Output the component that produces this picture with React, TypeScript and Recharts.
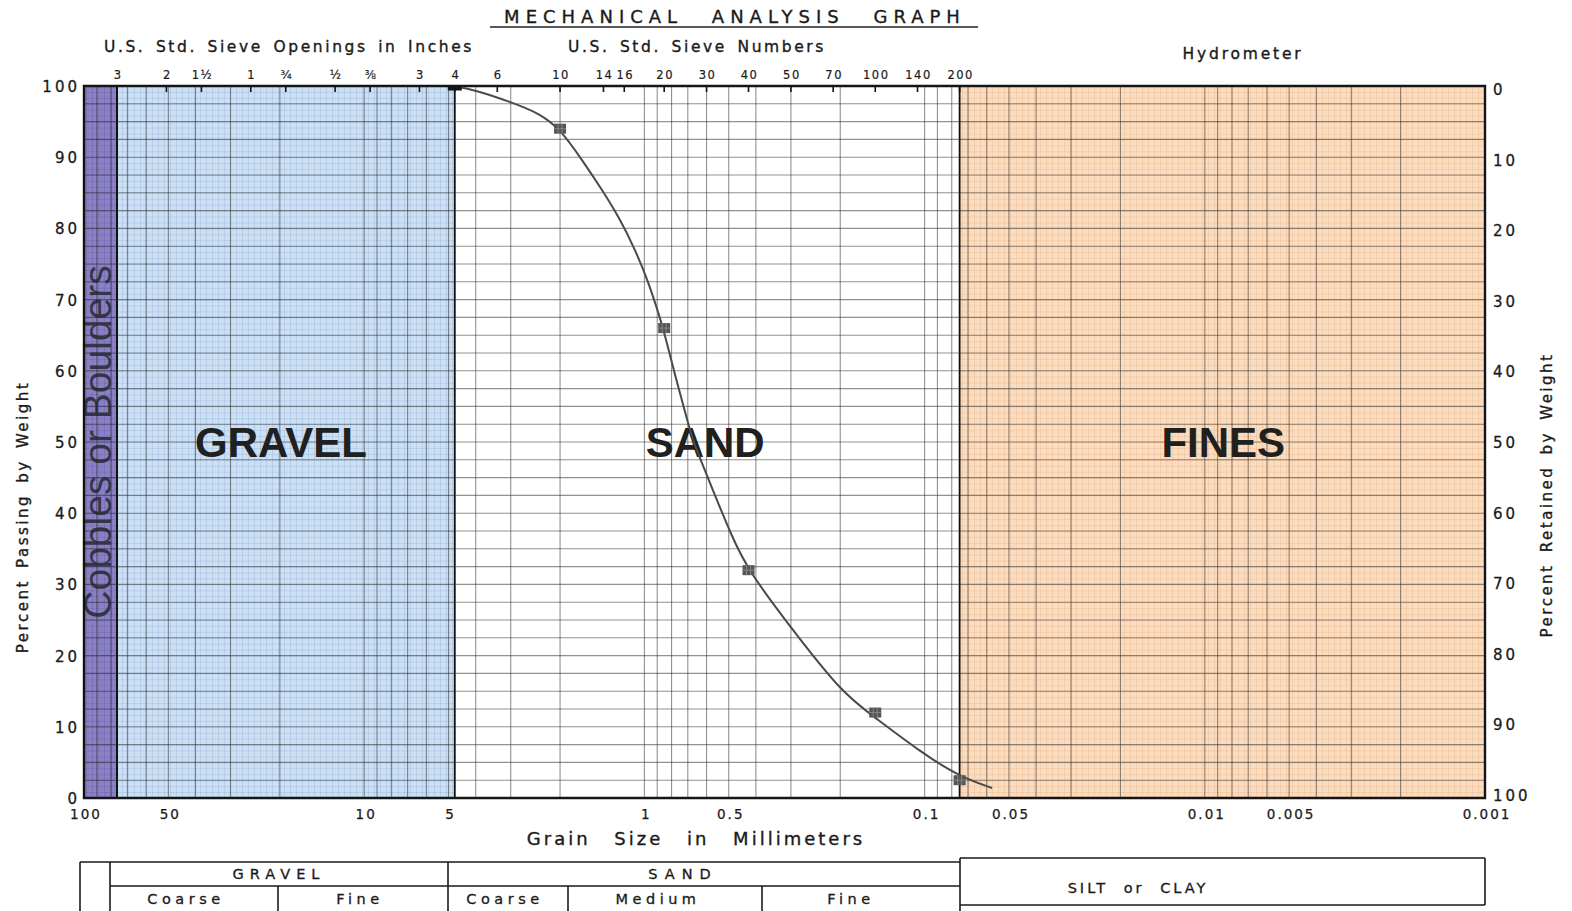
import React from 'react';
import { ComposedChart, Line, Scatter, XAxis, YAxis, ReferenceArea, ReferenceLine } from 'recharts';

// ---------- data ----------
const curveMm = [4.75, 4.0, 3.0, 2.38, 2.0, 1.667, 1.415, 1.233, 1.075, 0.964, 0.875, 0.85, 0.774, 0.693, 0.666, 0.63, 0.557, 0.487, 0.425, 0.305, 0.197, 0.15, 0.102, 0.075, 0.0574];
const curvePct = [100, 99.4, 97.75, 96.2, 94, 89.6, 85.4, 81.6, 76.9, 72.3, 67.1, 65.4, 59.1, 52.1, 49.9, 47.5, 42.3, 36.7, 31.9, 24.3, 14.7, 11.3, 6.3, 3.0, 1.4];

const markMm = [4.75, 2.0, 0.85, 0.425, 0.15, 0.075];
const markPct = [100, 94, 66, 32, 12, 2.5];

const mmTicks = [100, 50, 10, 5, 1, 0.5, 0.1, 0.05, 0.01, 0.005, 0.001];
const mmTickLabels = ['100', '50', '10', '5', '1', '0.5', '0.1', '0.05', '0.01', '0.005', '0.001'];

const sieveMm = [76.2, 50.8, 38.1, 25.4, 19.05, 12.7, 9.525, 6.35, 4.75, 3.35, 2.0, 1.4, 1.18, 0.85, 0.6, 0.425, 0.3, 0.212, 0.15, 0.106, 0.075];
const sieveLabels = ['3', '2', '1½', '1', '¾', '½', '⅜', '3', '4', '6', '10', '14', '16', '20', '30', '40', '50', '70', '100', '140', '200'];

const pctTicks = [0, 10, 20, 30, 40, 50, 60, 70, 80, 90, 100];

const regionNames = ['Cobbles or Boulders', 'GRAVEL', 'SAND', 'FINES'];
const regionFrom = [100, 76.2, 4.75, 0.075];
const regionTo = [76.2, 4.75, 0.075, 0.001];
const regionFill = ['url(#purplePat)', 'url(#bluePat)', '#ffffff', 'url(#peachPat)'];
const regionLabelShift = [-3, -5, -2, 1];

const gridDecades = [10, 1, 0.1, 0.01, 0.001];
const gridMultipliers = [1, 2, 3, 4, 5, 6, 7, 8, 9];
const gridPctStep = 2.5;

// ---------- derived tables ----------
const curveData = curveMm.map((mm, i) => ({ mm, pct: curvePct[i] }));
const markData = markMm.map((mm, i) => ({ mm, pct: markPct[i] }));
const gridMm: number[] = [];
gridDecades.forEach((d) => gridMultipliers.forEach((m) => gridMm.push(+(d * m).toPrecision(6))));
const gridPct: number[] = [];
for (let v = 0; v <= 100; v += gridPctStep) gridPct.push(v);

const FONT = '"DejaVu Sans", Verdana, sans-serif';
const INK = '#1a1a1a';

const closestIdx = (arr: number[], v: number) => {
  let best = 0;
  let bd = Infinity;
  arr.forEach((a, i) => {
    const d = Math.abs(Math.log(a) - Math.log(v));
    if (d < bd) { bd = d; best = i; }
  });
  return best;
};

const MmTick = (props: any) => {
  const { x, y, payload } = props;
  const label = mmTickLabels[closestIdx(mmTicks, payload.value)];
  return (
    <text x={x + 2} y={y + 15} textAnchor="middle" fontSize={13.5} letterSpacing={2} fontFamily={FONT} fill={INK} stroke={INK} strokeWidth={0.25}>
      {label}
    </text>
  );
};

const SieveTick = (props: any) => {
  const { x, y, payload } = props;
  const label = sieveLabels[closestIdx(sieveMm, payload.value)];
  return (
    <g>
      <line x1={x} x2={x} y1={y + 7} y2={y + 13} stroke="#111" strokeWidth={1.6} />
      <text x={x + 1} y={y} textAnchor="middle" fontSize={11.5} letterSpacing={1.5} fontFamily={FONT} fill={INK} stroke={INK} strokeWidth={0.2}>
        {label}
      </text>
    </g>
  );
};

const LeftTick = (props: any) => {
  const { x, y, payload } = props;
  return (
    <text x={x + 3} y={y + 6} textAnchor="end" fontSize={15} letterSpacing={3} fontFamily={FONT} fill={INK} stroke={INK} strokeWidth={0.3}>
      {payload.value}
    </text>
  );
};

const RightTick = (props: any) => {
  const { x, y, payload } = props;
  return (
    <text x={x} y={y + 9 - payload.value * 0.06} textAnchor="start" fontSize={15} letterSpacing={3} fontFamily={FONT} fill={INK} stroke={INK} strokeWidth={0.3}>
      {payload.value}
    </text>
  );
};

const RegionLabel = (props: any) => {
  const { viewBox, text, vertical, shift } = props;
  if (!viewBox) return null;
  const cx = viewBox.x + viewBox.width / 2 + (shift || 0);
  const cy = viewBox.y + viewBox.height / 2;
  if (vertical) {
    return (
      <text
        transform={`translate(${cx},${cy}) rotate(-90)`}
        textAnchor="middle"
        dominantBaseline="central"
        fontSize={39}
        fontFamily='"Liberation Sans", Arial, sans-serif'
        fill="#2e2e3a"
        fillOpacity={0.92}
      >
        {text}
      </text>
    );
  }
  return (
    <text
      x={cx}
      y={cy}
      textAnchor="middle"
      dominantBaseline="central"
      fontSize={42}
      fontWeight="bold"
      fontFamily='"Liberation Sans", Arial, sans-serif'
      fill="#202020"
    >
      {text}
    </text>
  );
};

const MarkerShape = (props: any) => {
  const { cx, cy, payload } = props;
  if (cx == null || cy == null) return null;
  const first = payload && payload.pct === 100;
  const w = first ? 14 : 12;
  const h = first ? 9 : 10;
  return (
    <g>
      <rect x={cx - w / 2} y={cy - h / 2} width={w} height={h} fill={first ? '#151515' : '#555'} />
      {!first && (
        <path
          d={`M${cx - 2} ${cy - h / 2}V${cy + h / 2}M${cx + 2} ${cy - h / 2}V${cy + h / 2}M${cx - w / 2} ${cy}H${cx + w / 2}`}
          stroke="#8a8a8a"
          strokeWidth={0.9}
        />
      )}
    </g>
  );
};

const Defs = () => (
  <svg width={0} height={0} style={{ position: 'absolute' }}>
    <defs>
      <pattern id="bluePat" patternUnits="userSpaceOnUse" x={0} y={78} width={6} height={5.9333}>
        <rect width={6} height={5.9333} fill="#cce0f5" />
        <path d="M0 0H6M0 0V5.9333" stroke="rgba(70,110,160,0.38)" strokeWidth={0.8} />
      </pattern>
      <pattern id="peachPat" patternUnits="userSpaceOnUse" x={0} y={78} width={6} height={5.9333}>
        <rect width={6} height={5.9333} fill="#fbdcbe" />
        <path d="M0 0H6M0 0V5.9333" stroke="rgba(190,120,70,0.35)" strokeWidth={0.8} />
      </pattern>
      <pattern id="purplePat" patternUnits="userSpaceOnUse" x={0} y={78} width={6} height={5.9333}>
        <rect width={6} height={5.9333} fill="#8a80c6" />
        <path d="M0 0H6M0 0V5.9333" stroke="rgba(40,30,90,0.3)" strokeWidth={0.8} />
      </pattern>
    </defs>
  </svg>
);

const Overlay = () => (
  <svg width={1556} height={903} style={{ position: 'absolute', left: 0, top: 0, pointerEvents: 'none', overflow: 'visible' }}>
    <g fontFamily={FONT} fill={INK} stroke={INK} strokeWidth={0.35}>
      <text x={727} y={15} textAnchor="middle" fontSize={18} letterSpacing={6} wordSpacing={17}>MECHANICAL ANALYSIS GRAPH</text>
      <text x={281} y={44} textAnchor="middle" fontSize={15.5} letterSpacing={2.6} wordSpacing={3}>U.S. Std. Sieve Openings in Inches</text>
      <text x={689} y={44} textAnchor="middle" fontSize={15.5} letterSpacing={2.6} wordSpacing={3}>U.S. Std. Sieve Numbers</text>
      <text x={1235} y={51} textAnchor="middle" fontSize={15.5} letterSpacing={2.8}>Hydrometer</text>
      <text x={688} y={837} textAnchor="middle" fontSize={18} letterSpacing={3} wordSpacing={15}>Grain Size in Millimeters</text>
      <text transform="translate(20,509) rotate(-90)" textAnchor="middle" fontSize={15} letterSpacing={2.5} wordSpacing={4}>Percent Passing by Weight</text>
      <text transform="translate(1544,487) rotate(-90)" textAnchor="middle" fontSize={15} letterSpacing={2.5} wordSpacing={4}>Percent Retained by Weight</text>
    </g>
    <line x1={482} x2={970} y1={19} y2={19} stroke="#222" strokeWidth={1.5} />
    <g stroke="#1a1a1a" strokeWidth={1.6} fill="none">
      <line x1={72} x2={952} y1={854} y2={854} />
      <line x1={952} x2={1477} y1={850} y2={850} />
      <line x1={72} x2={72} y1={854} y2={903} />
      <line x1={102} x2={102} y1={854} y2={903} />
      <line x1={102} x2={952} y1={878} y2={878} />
      <line x1={440} x2={440} y1={854} y2={903} />
      <line x1={270} x2={270} y1={878} y2={903} />
      <line x1={560} x2={560} y1={878} y2={903} />
      <line x1={754} x2={754} y1={878} y2={903} />
      <line x1={952} x2={952} y1={850} y2={903} />
      <line x1={1477} x2={1477} y1={850} y2={897} />
      <line x1={952} x2={1477} y1={897} y2={897} />
    </g>
    <g fontFamily={FONT} fill={INK} stroke={INK} strokeWidth={0.3} fontSize={14.5} textAnchor="middle">
      <text x={271} y={871} letterSpacing={6}>GRAVEL</text>
      <text x={675} y={871} letterSpacing={7}>SAND</text>
      <text x={178} y={896} letterSpacing={4.5}>Coarse</text>
      <text x={352} y={896} letterSpacing={4.5}>Fine</text>
      <text x={497} y={896} letterSpacing={4.5}>Coarse</text>
      <text x={650} y={896} letterSpacing={4.5}>Medium</text>
      <text x={843} y={896} letterSpacing={4.5}>Fine</text>
      <text x={1130} y={885} letterSpacing={3} wordSpacing={8}>SILT or CLAY</text>
    </g>
  </svg>
);

export default function App() {
  return (
    <div style={{ position: 'relative', width: 1556, height: 903, background: '#fff' }}>
      <Defs />
      <ComposedChart width={1556} height={903} margin={{ top: 48, right: 19, bottom: 83, left: 16 }}>
        <XAxis
          xAxisId="mm"
          dataKey="mm"
          type="number"
          scale="log"
          domain={[0.001, 100]}
          reversed
          allowDataOverflow
          ticks={mmTicks}
          interval={0}
          tick={<MmTick />}
          tickLine={false}
          axisLine={false}
          tickSize={0}
          tickMargin={6}
          height={30}
        />
        <XAxis
          xAxisId="sieve"
          orientation="top"
          dataKey="mm"
          type="number"
          scale="log"
          domain={[0.001, 100]}
          reversed
          allowDataOverflow
          ticks={sieveMm}
          interval={0}
          tick={<SieveTick />}
          tickLine={false}
          axisLine={false}
          tickSize={0}
          tickMargin={7}
          height={30}
        />
        <YAxis
          yAxisId="pct"
          dataKey="pct"
          type="number"
          domain={[0, 100]}
          allowDataOverflow
          ticks={pctTicks}
          interval={0}
          tick={<LeftTick />}
          tickLine={false}
          axisLine={false}
          tickSize={0}
          tickMargin={7}
          width={60}
        />
        <YAxis
          yAxisId="ret"
          orientation="right"
          dataKey="pct"
          type="number"
          domain={[0, 100]}
          allowDataOverflow
          reversed
          ticks={pctTicks}
          interval={0}
          tick={<RightTick />}
          tickLine={false}
          axisLine={false}
          tickSize={0}
          tickMargin={8}
          width={60}
        />

        {regionNames.map((name, i) => (
          <ReferenceArea
            key={`reg-${name}`}
            xAxisId="mm"
            yAxisId="pct"
            x1={regionFrom[i]}
            x2={regionTo[i]}
            y1={0}
            y2={100}
            fill={regionFill[i]}
            fillOpacity={1}
            stroke="none"
            label={<RegionLabel text={name} vertical={i === 0} shift={regionLabelShift[i]} />}
          />
        ))}

        {gridMm.map((v) => (
          <ReferenceLine key={`gx-${v}`} xAxisId="mm" yAxisId="pct" x={v} stroke="rgba(35,35,35,0.5)" strokeWidth={1.1} />
        ))}
        {gridPct.map((v) => (
          <ReferenceLine key={`gy-${v}`} xAxisId="mm" yAxisId="pct" y={v} stroke="rgba(35,35,35,0.5)" strokeWidth={1.1} />
        ))}

        {regionNames.map((name, i) => (
          <ReferenceArea
            key={`box-${name}`}
            xAxisId="mm"
            yAxisId="pct"
            x1={regionFrom[i]}
            x2={regionTo[i]}
            y1={0}
            y2={100}
            fill="none"
            stroke="#111"
            strokeWidth={i === 2 ? 0 : 1.8}
          />
        ))}
        <ReferenceArea xAxisId="mm" yAxisId="pct" x1={100} x2={0.001} y1={0} y2={100} fill="none" stroke="#111" strokeWidth={2.4} />

        <Line
          xAxisId="mm"
          yAxisId="pct"
          data={curveData}
          dataKey="pct"
          type="basis"
          stroke="#4a4a4a"
          strokeWidth={2}
          dot={false}
          activeDot={false}
          isAnimationActive={false}
        />
        <Scatter
          xAxisId="mm"
          yAxisId="pct"
          data={markData}
          dataKey="pct"
          shape={<MarkerShape />}
          isAnimationActive={false}
        />
      </ComposedChart>
      <Overlay />
    </div>
  );
}
